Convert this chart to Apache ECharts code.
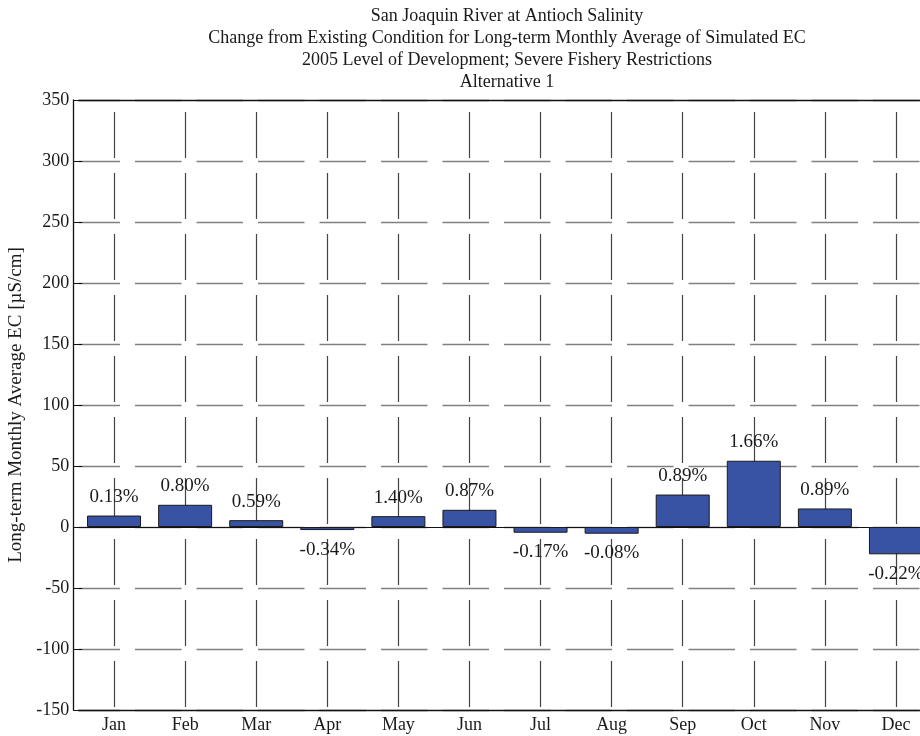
<!DOCTYPE html>
<html>
<head>
<meta charset="utf-8">
<script src="https://cdn.jsdelivr.net/npm/echarts@6/dist/echarts.min.js"></script>
<style>html,body{margin:0;padding:0;background:#fff}#c{width:920px;height:736px}</style>
</head>
<body>
<div id="c"></div>
<script>
const titleLines = [
  'San Joaquin River at Antioch Salinity',
  'Change from Existing Condition for Long-term Monthly Average of Simulated EC',
  '2005 Level of Development; Severe Fishery Restrictions',
  'Alternative 1'
];
const yAxisName = 'Long-term Monthly Average EC [µS/cm]';
const months = ['Jan','Feb','Mar','Apr','May','Jun','Jul','Aug','Sep','Oct','Nov','Dec'];
const changeEC = [9.4, 18.2, 5.6, -2.5, 8.9, 14.1, -4.7, -5.5, 26.6, 54.3, 15.2, -22.4];
const pctLabels = ['0.13%','0.80%','0.59%','-0.34%','1.40%','0.87%','-0.17%','-0.08%','0.89%','1.66%','0.89%','-0.22%'];
const yMin = -150, yMax = 350, yStep = 50;

const FONT = 'Liberation Serif';
const chart = echarts.init(document.getElementById('c'), null, {renderer: 'canvas'});

const barData = changeEC.map((v, i) => ({
  value: v,
  label: {
    show: true,
    position: v >= 0 ? 'top' : 'bottom',
    distance: v >= 0 ? 9 : 10,
    formatter: pctLabels[i]
  }
}));

const vLines = months.map(m => [{coord: [m, yMax]}, {coord: [m, yMin]}]);
const zeroLine = {yAxis: 0, lineStyle: {type: 'solid', color: '#111', width: 1.2}};

chart.setOption({
  animation: false,
  backgroundColor: '#fff',
  title: {
    text: titleLines.join('\n'),
    left: 502,
    top: 0,
    textAlign: 'center',
    textStyle: {fontFamily: FONT, fontSize: 18, fontWeight: 'normal', color: '#1a1a1a', lineHeight: 22}
  },
  grid: {left: 78.5, top: 100, width: 853, height: 610, containLabel: false, outerBoundsMode: 'none'},
  xAxis: [{
    type: 'category',
    data: months,
    position: 'bottom',
    axisLine: {onZero: false, lineStyle: {color: '#111', width: 1.3}},
    axisTick: {inside: true, alignWithLabel: true, length: 7, lineStyle: {color: '#111'}},
    axisLabel: {fontFamily: FONT, fontSize: 18, color: '#1a1a1a', margin: 6},
    splitLine: {show: false}
  }, {
    type: 'category',
    data: months,
    position: 'top',
    axisLine: {onZero: false, lineStyle: {color: '#111', width: 1.3}},
    axisTick: {inside: true, alignWithLabel: true, length: 7, lineStyle: {color: '#111'}},
    axisLabel: {show: false},
    splitLine: {show: false}
  }],
  yAxis: {
    type: 'value',
    min: yMin, max: yMax, interval: yStep,
    offset: 5.2,
    name: yAxisName,
    nameLocation: 'middle',
    nameGap: 38,
    nameTextStyle: {fontFamily: FONT, fontSize: 19, color: '#1a1a1a'},
    axisLine: {show: true, lineStyle: {color: '#111', width: 1.3}},
    axisTick: {show: true, inside: true, length: 9, lineStyle: {color: '#111'}},
    axisLabel: {fontFamily: FONT, fontSize: 18, color: '#1a1a1a', margin: 4},
    splitLine: {show: true, lineStyle: {color: '#808080', width: 1.3, type: [46.5, 15], dashOffset: 5}}
  },
  series: [{
    type: 'bar',
    data: barData,
    barWidth: 54,
    itemStyle: {color: '#3953a4', borderColor: '#1a1a1a', borderWidth: 1},
    label: {fontFamily: FONT, fontSize: 19, color: '#1a1a1a'},
    markLine: {
      silent: true,
      symbol: 'none',
      z: 1,
      label: {show: false},
      lineStyle: {color: '#444', width: 1.2, type: [46, 15], dashOffset: 49},
      data: vLines.concat([zeroLine])
    }
  }]
});
</script>
</body>
</html>
